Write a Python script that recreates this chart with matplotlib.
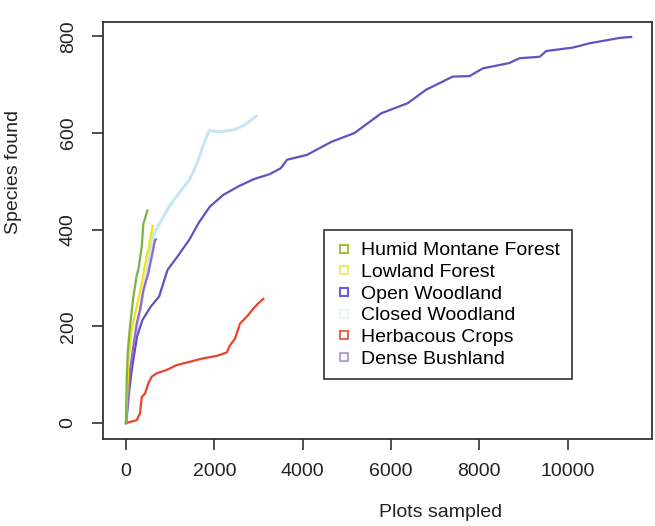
import matplotlib
matplotlib.use("Agg")
import matplotlib.pyplot as plt
from matplotlib.lines import Line2D

plt.rcParams['font.family'] = ['Liberation Sans', 'DejaVu Sans']

# accumulation curves, values
humid_x = [0, 15, 40, 90, 165, 240, 280, 356, 392, 420, 482]
humid_y = [0, 90, 150, 200, 260, 305, 318, 365, 413, 420, 440]

lowland_x = [0, 20, 53, 90, 129, 190, 242, 300, 356, 410, 468, 510, 544, 604]
lowland_y = [0, 50, 124, 160, 193, 220, 241, 265, 289, 318, 344, 360, 379, 408]

open_x = [0, 60, 140, 250, 370, 560, 750, 940, 1160, 1430, 1650, 1900, 2200,
          2550, 2900, 3250, 3500, 3650, 4100, 4650, 5170, 5320, 5780, 6380,
          6800, 7400, 7780, 8080, 8680, 8910, 9370, 9520, 10120, 10500,
          11180, 11440]
open_y = [0, 60, 117, 179, 213, 241, 262, 317, 344, 379, 415, 448, 472, 490,
          505, 515, 527, 545, 555, 582, 600, 610, 641, 662, 690, 717, 718,
          734, 745, 755, 758, 770, 777, 786, 797, 799]

closed_x = [0, 100, 250, 450, 635, 790, 975, 1200, 1430, 1580, 1730, 1880,
            2150, 2450, 2650, 2830, 2950]
closed_y = [0, 90, 200, 300, 393, 418, 448, 476, 503, 531, 570, 605, 603,
            607, 615, 627, 635]

herb_x = [0, 242, 317, 356, 430, 505, 582, 695, 922, 1148, 1450, 1751, 2054,
          2281, 2356, 2469, 2582, 2734, 2884, 2997, 3110]
herb_y = [0, 6, 20, 54, 61, 82, 96, 103, 110, 120, 127, 134, 139, 146, 161,
          175, 206, 220, 237, 248, 257]

dense_x = [0, 20, 53, 91, 165, 242, 317, 392, 505, 582, 657, 680]
dense_y = [0, 20, 54, 110, 158, 206, 234, 275, 310, 344, 379, 380]

labels = ["Humid Montane Forest", "Lowland Forest", "Open Woodland",
          "Closed Woodland", "Herbacous Crops", "Dense Bushland"]
colors = ["#7cb342", "#f0e21a", "#6152c2", "#c4e8f0", "#e8432d", "#9368c8"]
legend_colors = ["#a9b84a", "#f5e86a", "#6a5ccc", "#eef7f8", "#ec6a55", "#b9a0dc"]

fig = plt.figure(figsize=(6.55, 5.26), dpi=100)
ax = fig.add_axes([0.1573, 0.1654, 0.8382, 0.7928])

ax.plot(closed_x, closed_y, color=colors[3], lw=2.2)
ax.plot(open_x, open_y, color=colors[2], lw=1.6)
ax.plot(herb_x, herb_y, color=colors[4], lw=1.6)
ax.plot(dense_x, dense_y, color=colors[5], lw=1.6)
ax.plot(lowland_x, lowland_y, color=colors[1], lw=1.6)
ax.plot(humid_x, humid_y, color=colors[0], lw=1.6)

ax.set_xlim(-521, 11914)
ax.set_ylim(-33, 830)
ax.set_xticks([0, 2000, 4000, 6000, 8000, 10000])
ax.set_yticks([0, 200, 400, 600, 800])
for s in ax.spines.values():
    s.set_linewidth(1.3)
    s.set_color("#333333")
ax.tick_params(axis='both', labelsize=14, length=8, width=1.2, color="#333333",
               labelcolor="#222222")
ax.tick_params(axis='x', pad=9)
ax.tick_params(axis='y', pad=11)
for t in ax.get_yticklabels():
    t.set_rotation(90)
    t.set_va('center')

ax.set_xlabel("Plots sampled", fontsize=14, color="#222222")
ax.xaxis.set_label_coords(0.615, -0.155)
ax.set_ylabel("Species found", fontsize=14, color="#222222")
ax.yaxis.set_label_coords(-0.148, 0.64)

handles = [Line2D([], [], marker='s', ls='none', mfc='none', mec=c, ms=6, mew=1.5)
           for c in legend_colors]
leg = ax.legend(handles, labels, loc='upper left', bbox_to_anchor=(0.4026, 0.501),
                borderaxespad=0, fontsize=14, frameon=True, fancybox=False,
                edgecolor="#333333", framealpha=1, labelspacing=0.21,
                handlelength=0.8, handletextpad=0.5, borderpad=0.6)
leg.get_frame().set_linewidth(1.2)

fig.savefig("out.png", dpi=100)
